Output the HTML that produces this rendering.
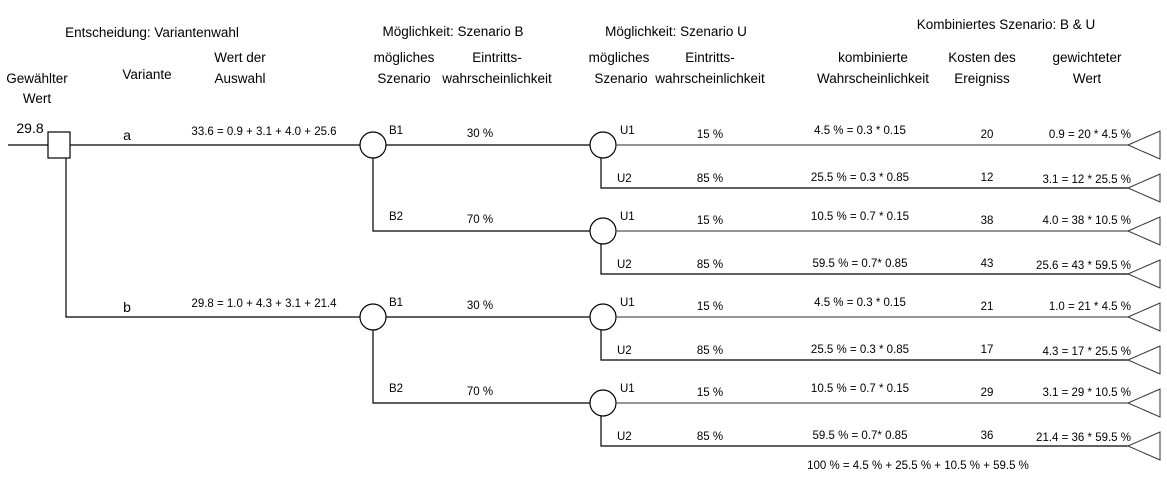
<!DOCTYPE html>
<html><head><meta charset="utf-8"><style>
body{margin:0;background:#fff}
svg{display:block;font-family:"Liberation Sans",sans-serif}
.h{font-size:13.5px;text-anchor:middle;fill:#000}
.s{font-size:11.5px;fill:#000}
.m{font-size:14px}
</style></head><body>
<svg id="c" width="1167" height="485">
<g>
<text class="h" x="152" y="37">Entscheidung: Variantenwahl</text>
<text class="h" x="453" y="36">Möglichkeit: Szenario B</text>
<text class="h" x="676" y="36">Möglichkeit: Szenario U</text>
<text class="h" x="1006" y="29">Kombiniertes Szenario: B &amp; U</text>
<text class="h" x="37" y="83">Gewählter<tspan x="37" dy="20">Wert</tspan></text>
<text class="h" x="147" y="79">Variante</text>
<text class="h" x="240" y="62">Wert der<tspan x="240" dy="21">Auswahl</tspan></text>
<text class="h" x="404" y="62">mögliches<tspan x="404" dy="21">Szenario</tspan></text>
<text class="h" x="497" y="62">Eintritts-<tspan x="497" dy="21">wahrscheinlichkeit</tspan></text>
<text class="h" x="619" y="62">mögliches<tspan x="621" dy="21">Szenario</tspan></text>
<text class="h" x="710" y="62">Eintritts-<tspan x="710" dy="21">wahrscheinlichkeit</tspan></text>
<text class="h" x="873" y="62">kombinierte<tspan x="873" dy="21">Wahrscheinlichkeit</tspan></text>
<text class="h" x="982" y="62">Kosten des<tspan x="982" dy="21">Ereigniss</tspan></text>
<text class="h" x="1087" y="62">gewichteter<tspan x="1087" dy="21">Wert</tspan></text>
</g>
<g id="tree" stroke="#000" fill="none" stroke-width="1.2"></g>
<g id="txt"></g>
<text class="s" x="918" y="469" text-anchor="middle">100 % = 4.5 % + 25.5 % + 10.5 % + 59.5 %</text>
</svg>
<script>
const variants=["a","b"];
const variantFormulas=["33.6 = 0.9 + 3.1 + 4.0 + 25.6","29.8 = 1.0 + 4.3 + 3.1 + 21.4"];
const chosenValue="29.8";
const bLabels=["B1","B2"];
const bProbs=["30 %","70 %"];
const uLabels=["U1","U2"];
const uProbs=["15 %","85 %"];
const combined=["4.5 % = 0.3 * 0.15","25.5 % = 0.3 * 0.85","10.5 % = 0.7 * 0.15","59.5 % = 0.7* 0.85"];
const costs=[[20,12,38,43],[21,17,29,36]];
const weighted=[["0.9 = 20 * 4.5 %","3.1 = 12 * 25.5 %","4.0 = 38 * 10.5 %","25.6 = 43 * 59.5 %"],["1.0  = 21 * 4.5 %","4.3 = 17 * 25.5 %","3.1 = 29 * 10.5 %","21.4 = 36 * 59.5 %"]];
const NS="http://www.w3.org/2000/svg";
const G=document.getElementById('tree'),T=document.getElementById('txt');
function el(tag,a,p){const e=document.createElementNS(NS,tag);for(const k in a)e.setAttribute(k,a[k]);(p||G).appendChild(e);return e;}
function tx(s,x,y,anchor,name,cls){const e=el('text',{x:x,y:y,'class':'s '+(cls||''),'text-anchor':anchor||'start'},T);e.textContent=s;

return e;}
const step=43, y0=145;
const rowY=i=>y0+i*step;
let l=el('line',{x1:8,y1:y0,x2:48,y2:y0});


let sq=el('rect',{x:48,y:132,width:22,height:26});


tx(chosenValue,30,133,'middle','chosen-value','m');
variants.forEach((v,vi)=>{
  const vy=rowY(vi*4);
  if(vi===0){el('line',{x1:70,y1:vy,x2:360,y2:vy});}
  else{el('polyline',{points:`66,158 66,${vy} 360,${vy}`});}
  tx(v,127,vy-5,'middle','variant-label','m');
  tx(variantFormulas[vi],264,vy-10,'middle','variant-formula');
  bLabels.forEach((b,bi)=>{
    const by=rowY(vi*4+bi*2);
    if(bi===0){const c=el('circle',{cx:373,cy:by,r:13});
      
      
      el('line',{x1:386,y1:by,x2:590,y2:by});}
    else el('polyline',{points:`373,${rowY(vi*4)+13} 373,${by} 590,${by}`});
    tx(b,389,by-11,'start','b-label');
    tx(bProbs[bi],480,by-8,'middle','b-prob');
    const uc=el('circle',{cx:603,cy:by,r:13});
    
    
    uLabels.forEach((u,ui)=>{
      const k=bi*2+ui, uy=rowY(vi*4+k);
      if(ui===0) el('line',{x1:616,y1:uy,x2:1128,y2:uy,stroke:'#555'});
      else el('polyline',{points:`601,${by+13} 601,${uy} 1128,${uy}`});
      const tri=el('polygon',{points:`1128,${uy} 1160,${uy-14} 1160,${uy+14}`,'stroke-width':1,stroke:'#333'});
      
      
      tx(u,ui===0?620:617,uy-(ui===0?11:6),'start','u-label');
      tx(uProbs[ui],710,uy-(ui===0?7:6),'middle','u-prob');
      tx(combined[k],860,uy-(ui===0?11:7),'middle','combined-prob');
      tx(String(costs[vi][k]),987,uy-7,'middle','cost');
      tx(weighted[vi][k],1131,uy-(ui===0?7:5),'end','weighted-value');
    });
  });
});
</script>
</body></html>
